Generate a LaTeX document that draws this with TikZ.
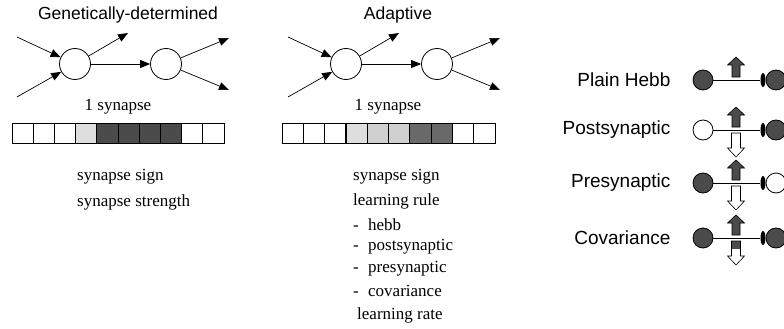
\documentclass[tikz,border=0pt]{standalone}
\usepackage{fontspec}
\setmainfont{Liberation Serif}
\setsansfont{Liberation Sans}
\usepackage{tikz}
\usetikzlibrary{arrows.meta, positioning, shapes.geometric}
\definecolor{cellwhite}{RGB}{255,255,255}
\definecolor{celllight}{RGB}{222,222,222}
\definecolor{cellmid}{RGB}{208,208,208}
\definecolor{celldark}{RGB}{75,75,75}
\definecolor{cellgrey}{RGB}{105,105,105}

\begin{document}
\begin{tikzpicture}[x=1pt,y=-1pt,
    neuron/.style={draw,circle,minimum size=31pt,inner sep=0pt,line width=0.8pt},
    syn/.style={-{Triangle[length=10pt,width=8pt]},line width=0.7pt},
    ttl/.style={font=\sffamily\fontsize{17.5}{21}\selectfont},
    txt/.style={font=\fontsize{17}{20}\selectfont,inner sep=0pt,anchor=west},
    rulelbl/.style={font=\sffamily\fontsize{19}{23}\selectfont,inner sep=0pt},
    cell/.style={draw,line width=0.9pt,minimum width=21.2pt,minimum height=20pt,inner sep=0pt},
    unit/.style={draw,circle,minimum size=20pt,inner sep=0pt,line width=0.8pt},
    bouton/.style={ellipse,fill=black,minimum width=5pt,minimum height=14pt,inner sep=0pt},
    upfill/.pic={\draw[fill=celldark,line width=0.6pt] (-4,0) -- (-4,-12) -- (-8.5,-12) -- (0,-20)
      -- (8.5,-12) -- (4,-12) -- (4,0) -- cycle;},
    downopen/.pic={\draw[fill=white,line width=0.6pt] (-4.5,0) -- (-4.5,15) -- (-8.5,15) -- (0,24)
      -- (8.5,15) -- (4.5,15) -- (4.5,0) -- cycle;},
    downhalf/.pic={\fill[celldark] (-4.5,0) rectangle (4.5,8);
      \draw[line width=0.6pt] (-4.5,0) -- (-4.5,15) -- (-8.5,15) -- (0,24)
      -- (8.5,15) -- (4.5,15) -- (4.5,0) -- cycle;}
  ]
  \useasboundingbox (0,0) rectangle (784,329);

  % genetically-determined network
  \node[ttl] (gtitle) at (128,15) {Genetically-determined};
  \node[neuron] (g1) at (75,64) {};
  \node[neuron] (g2) at (166,64) {};
  \coordinate (gin1) at (17,37);
  \coordinate (gin2) at (17,97);
  \coordinate (gout1) at (128,33);
  \coordinate (gout2) at (229,38);
  \coordinate (gout3) at (229,90);
  \draw[syn] (gin1) -- (g1);
  \draw[syn] (gin2) -- (g1);
  \draw[syn] (g1) -- (gout1);
  \draw[syn] (g1) -- (g2);
  \draw[syn] (g2) -- (gout2);
  \draw[syn] (g2) -- (gout3);
  \node[font=\fontsize{17}{20}\selectfont] (gsyn) at (118,107) {1 synapse};
  \foreach \c [count=\i] in {cellwhite,cellwhite,cellwhite,celllight,celldark,celldark,celldark,celldark,cellwhite,cellwhite}
    \node[cell,fill=\c] (gc\i) at ({12+21.2*(\i-0.5)},133) {};
  \node[txt] (gsign) at (77,177) {synapse sign};
  \node[txt] (gstrength) at (77,202) {synapse strength};

  % adaptive network
  \node[ttl] (atitle) at (398,15) {Adaptive};
  \node[neuron] (a1) at (346,64) {};
  \node[neuron] (a2) at (437,64) {};
  \coordinate (ain1) at (288,37);
  \coordinate (ain2) at (288,97);
  \coordinate (aout1) at (399,33);
  \coordinate (aout2) at (500,38);
  \coordinate (aout3) at (500,90);
  \draw[syn] (ain1) -- (a1);
  \draw[syn] (ain2) -- (a1);
  \draw[syn] (a1) -- (aout1);
  \draw[syn] (a1) -- (a2);
  \draw[syn] (a2) -- (aout2);
  \draw[syn] (a2) -- (aout3);
  \node[font=\fontsize{17}{20}\selectfont] (asyn) at (388,107) {1 synapse};
  \foreach \c [count=\i] in {cellwhite,cellwhite,cellwhite,celllight,cellmid,cellmid,cellgrey,cellgrey,cellwhite,cellwhite}
    \node[cell,fill=\c] (ac\i) at ({282+21.3*(\i-0.5)},133) {};
  \node[txt] (asign) at (353,177) {synapse sign};
  \node[txt] (arule) at (353,201) {learning rule};
  \node[txt] (ahebb) at (353,225) {\makebox[15pt][l]{-}hebb};
  \node[txt] (apost) at (353,247) {\makebox[15pt][l]{-}postsynaptic};
  \node[txt] (apre) at (353,269) {\makebox[15pt][l]{-}presynaptic};
  \node[txt] (acov) at (353,291) {\makebox[15pt][l]{-}covariance};
  \node[txt] (arate) at (357,315) {learning rate};

  % learning rules
  \node[unit,fill=celldark] (hl) at (703,80) {};
  \node[bouton] (hs) at (763,80) {};
  \node[unit,fill=celldark] (hr) at (776,80) {};
  \draw[line width=0.7pt] (hl) -- (hs);
  \pic at (736,77) {upfill};
  \node[rulelbl,left=22pt of hl] (hlbl) {Plain Hebb};

  \node[unit,fill=white] (ol) at (703,130) {};
  \node[bouton] (os) at (763,130) {};
  \node[unit,fill=celldark] (or) at (776,130) {};
  \draw[line width=0.7pt] (ol) -- (os);
  \pic at (736,127) {upfill};
  \pic at (736,133) {downopen};
  \node[rulelbl,left=22pt of ol] (olbl) {Postsynaptic};

  \node[unit,fill=celldark] (pl) at (703,183) {};
  \node[bouton] (ps) at (763,183) {};
  \node[unit,fill=white] (pr) at (776,183) {};
  \draw[line width=0.7pt] (pl) -- (ps);
  \pic at (736,180) {upfill};
  \pic at (736,186) {downopen};
  \node[rulelbl,left=22pt of pl] (plbl) {Presynaptic};

  \node[unit,fill=celldark] (cl) at (703,238) {};
  \node[bouton] (cs) at (763,238) {};
  \node[unit,fill=celldark] (cr) at (776,238) {};
  \draw[line width=0.7pt] (cl) -- (cs);
  \pic at (736,235) {upfill};
  \pic at (736,241) {downhalf};
  \node[rulelbl,left=22pt of cl] (clbl) {Covariance};
\end{tikzpicture}
\end{document}
